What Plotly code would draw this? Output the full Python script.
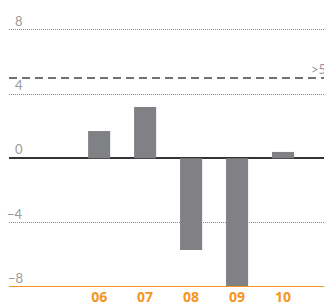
import plotly.graph_objects as go

categories = ["06", "07", "08", "09", "10"]
values = [1.7, 3.2, -5.7, -8.0, 0.4]
ytick_vals = [-8, -4, 0, 4, 8]
ytick_text = ["\u22128", "\u22124", "0", "4", "8"]
threshold = 5
threshold_label = ">5"

ORANGE = "#F7941D"
GREY_BAR = "#808184"
GREY_TXT = "#9a9a9a"

fig = go.Figure()
fig.add_trace(go.Bar(
    x=categories, y=values, marker_color=GREY_BAR, marker_line_width=0,
    width=0.48, showlegend=False, hoverinfo="skip",
))

# threshold dashed line
fig.add_shape(type="line", xref="paper", x0=0, x1=1, yref="y", y0=threshold, y1=threshold,
              line=dict(color="#444444", width=1.5, dash="8px,5px"), layer="above")
# orange baseline at bottom
fig.add_shape(type="line", xref="paper", x0=0, x1=1, yref="y", y0=ytick_vals[0], y1=ytick_vals[0],
              line=dict(color=ORANGE, width=2), layer="above")

fig.add_annotation(xref="paper", x=0.952, yref="y", y=threshold, text=threshold_label,
                   xanchor="left", yanchor="middle", yshift=9, showarrow=False,
                   font=dict(family="Lato", size=13, color=GREY_TXT))

for v, t in zip(ytick_vals, ytick_text):
    fig.add_annotation(xref="paper", x=0.051, yref="y", y=v, text=t,
                       xanchor="right", yanchor="middle", yshift=9, showarrow=False,
                       font=dict(family="Lato", size=13, color=GREY_TXT))

fig.update_layout(
    width=324, height=306,
    margin=dict(l=9, r=0, t=0, b=17, pad=0),
    paper_bgcolor="white", plot_bgcolor="white",
    xaxis=dict(type="category", categoryorder="array", categoryarray=categories,
               range=[-1.96, 4.89], showgrid=False, zeroline=False, showline=False,
               ticks="", tickfont=dict(family="Open Sans", size=14, color=ORANGE, weight="bold"),
               fixedrange=True),
    yaxis=dict(range=[-8, 9.85], tickvals=ytick_vals, showticklabels=False,
               showgrid=True, gridcolor="#8a8a8a", gridwidth=1, griddash="1px,1px",
               zeroline=True, zerolinecolor="#333333", zerolinewidth=1.5,
               showline=False, fixedrange=True),
)

fig.write_html("out.html", config={"displayModeBar": False},
               post_script="document.body.style.margin='0';document.body.style.overflow='hidden';")
